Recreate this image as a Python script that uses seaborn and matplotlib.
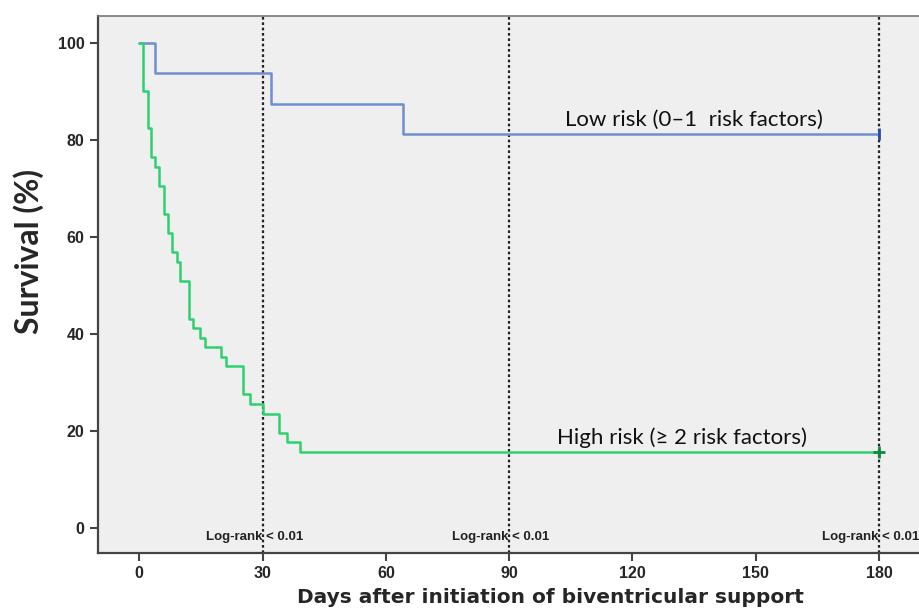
import pandas as pd
import matplotlib
matplotlib.use("Agg")
import matplotlib.pyplot as plt
import seaborn as sns

# Kaplan-Meier step data
low_days = [0, 3.9, 32.1, 64.1, 180]
low_surv = [100, 93.8, 87.5, 81.2, 81.2]

high_days = [0, 1.0, 2.1, 2.9, 3.9, 4.9, 6.0, 7.0, 8.0, 9.2, 10.0, 12.1, 13.0,
             14.9, 16.1, 19.9, 21.1, 25.2, 27.0, 30.0, 34.1, 36.0, 39.1, 180]
high_surv = [100, 90.2, 82.4, 76.5, 74.5, 70.6, 64.7, 60.8, 56.9, 54.9, 51.0, 43.1, 41.2,
             39.2, 37.3, 35.3, 33.3, 27.5, 25.5, 23.5, 19.6, 17.6, 15.7, 15.7]

landmarks = [30, 90, 180]
x_ticks = [0, 30, 60, 90, 120, 150, 180]
y_ticks = [0, 20, 40, 60, 80, 100]

low_df = pd.DataFrame({"Days": low_days, "Survival": low_surv})
high_df = pd.DataFrame({"Days": high_days, "Survival": high_surv})

sns.set_style("white")
plt.rcParams["font.family"] = ["Liberation Sans Narrow", "Liberation Sans", "DejaVu Sans"]

blue = "#6f8fd0"
green = "#2fd070"

fig = plt.figure(figsize=(9.19, 6.09), dpi=100)
ax = fig.add_axes([97.7 / 919, 1 - 553.3 / 609, 1 - 97.7 / 919, (553.3 - 16) / 609])
ax.set_facecolor("#efefef")

sns.lineplot(data=low_df, x="Days", y="Survival", estimator=None, drawstyle="steps-post",
             color=blue, linewidth=1.8, ax=ax)
sns.lineplot(data=high_df, x="Days", y="Survival", estimator=None, drawstyle="steps-post",
             color=green, linewidth=1.8, ax=ax)

# censor marks at the end of follow-up
ax.plot([low_days[-1]], [low_surv[-1]], marker="|", color="#2a4f9a", markersize=9, mew=2)
ax.plot([high_days[-1]], [high_surv[-1]], marker="+", color="#0c8a3c", markersize=9, mew=2)

for d in landmarks:
    ax.axvline(d, color="#222222", linestyle=(0, (1.2, 1.2)), linewidth=1.6, zorder=1)
    ax.text(d - 2, -2, "Log-rank < 0.01", ha="center", va="center", fontsize=9.5,
            fontweight="bold", color="#222222")

ax.text(135, 84.2, "Low risk (0\u20131  risk factors)", ha="center", va="center",
        fontsize=16, family=["Lato", "DejaVu Sans"], color="#111111")
ax.text(132, 18.6, "High risk (\u2265 2 risk factors)", ha="center", va="center",
        fontsize=16, family=["Lato", "DejaVu Sans"], color="#111111")

ax.set_xlim(-10.1, 189.7)
ax.set_ylim(-5.3, 105.6)
ax.set_xticks(x_ticks)
ax.set_yticks(y_ticks)
ax.tick_params(axis="both", which="major", direction="out", length=6, width=1.5,
               color="#444444", labelsize=11.5, left=True, bottom=True)
for lab in ax.get_xticklabels() + ax.get_yticklabels():
    lab.set_fontweight("bold")

ax.set_xlabel("Days after initiation of biventricular support", fontsize=14.5,
              fontweight="bold", family=["DejaVu Sans"])
ax.xaxis.set_label_coords((550 - 97.7) / 821.3, (553.3 - 588) / 537.3)
ax.set_ylabel("Survival (%)", fontsize=23, fontweight="bold", family=["Lato", "DejaVu Sans"])
ax.yaxis.set_label_coords((44 - 97.7) / 821.3, (553.3 - 251) / 537.3)

for side in ["left", "bottom"]:
    ax.spines[side].set_color("#444444")
    ax.spines[side].set_linewidth(1.6)
ax.spines["top"].set_color("#777777")
ax.spines["top"].set_linewidth(1.2)
ax.spines["right"].set_visible(False)

fig.savefig("out.png", dpi=100)
